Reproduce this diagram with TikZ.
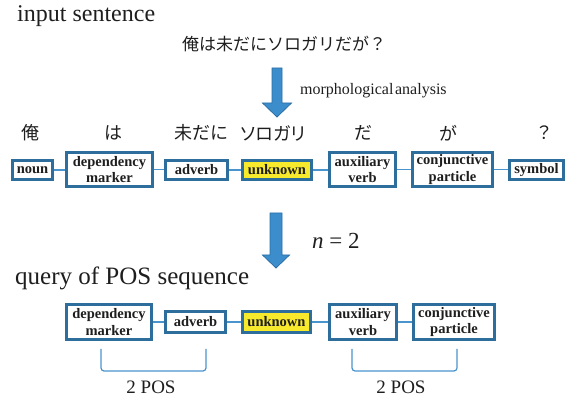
\documentclass[tikz,border=0pt]{standalone}
\usepackage{fontspec}
\setmainfont{Liberation Serif}
\newfontfamily\jp[RawFeature=+palt]{Noto Sans CJK JP}
\newfontfamily\jpmono{Noto Sans CJK JP}
\definecolor{boxblue}{HTML}{2D6E9D}
\definecolor{linkblue}{HTML}{4A94CE}
\definecolor{arrowfill}{HTML}{3B8DCB}
\definecolor{arrowedge}{HTML}{2C6FA6}
\definecolor{unkyellow}{HTML}{F7E92B}
\definecolor{txt}{HTML}{1E1E1E}
\begin{document}
\begin{tikzpicture}[x=1pt,y=-1pt,
  posbox/.style={draw=boxblue, line width=2.6pt, fill=white, inner sep=0pt,
    text=txt, font=\fontsize{14.5}{16.5}\selectfont\bfseries, align=center},
  unk/.style={posbox, fill=unkyellow},
  small/.style={minimum height=19.5pt},
  big/.style={minimum height=34.5pt},
  link/.style={draw=linkblue, line width=1.4pt},
  blockarrow/.style={fill=arrowfill, draw=arrowedge, line width=0.8pt},
  bracketline/.style={draw=linkblue, line width=1.2pt, rounded corners=3pt},
  jpword/.style={font=\jp\fontsize{18}{18}\selectfont, text=txt, inner sep=0pt},
  title/.style={font=\fontsize{24}{24}\selectfont, text=txt, inner sep=0pt, anchor=base west},
  countlbl/.style={font=\fontsize{19}{19}\selectfont, text=txt, inner sep=0pt, anchor=base}
]
\useasboundingbox (0,0) rectangle (571,398);

% titles
\node[title] (t1) at (17,22) {input sentence};
\node[font=\jpmono\fontsize{17}{17}\selectfont, text=txt, inner sep=0pt, anchor=west] (sent) at (182,43.5) {俺は未だにソロガリだが？};
\node[font=\fontsize{16}{16}\selectfont, text=txt, inner sep=0pt, anchor=base west] (morph) at (300,95) {morphological\hspace{0.1em}analysis};

% arrow 1
\draw[blockarrow] (272,68) -- (282,68) -- (282,103) -- (291.5,103) -- (277,117) -- (262.5,103) -- (272,103) -- cycle;

% word labels
\node[jpword] (w1) at (30,133) {俺};
\node[jpword] (w2) at (113,133) {は};
\node[jpword] (w3) at (201,133) {未だに};
\node[jpword] (w4) at (273,133) {ソロガリ};
\node[jpword] (w5) at (364,133) {だ};
\node[jpword] (w6) at (448,133) {が};
\node[jpword] (w7) at (544,133) {？};

% top row
\node[posbox, small, minimum width=40.4pt] (a1) at (32.5,170) {noun};
\node[posbox, big, minimum width=86.4pt] (a2) at (109.5,169.5) {dependency\\marker};
\node[posbox, small, minimum width=62.4pt] (a3) at (196.5,170) {adverb};
\node[unk, small, minimum width=69.4pt] (a4) at (277,170) {unknown};
\node[posbox, big, minimum width=66.4pt] (a5) at (362.5,169.5) {auxiliary\\verb};
\node[posbox, big, minimum width=80.4pt] (a6) at (452.5,169.5) {conjunctive\\particle};
\node[posbox, small, minimum width=54.4pt] (a7) at (536.5,170) {symbol};
\foreach \p/\q in {a1/a2,a2/a3,a3/a4,a4/a5,a5/a6,a6/a7}
  \draw[link] (\p.east) -- (\p.east -| \q.west);

% arrow 2
\draw[blockarrow] (270,213) -- (282,213) -- (282,255) -- (289.5,255) -- (276,268) -- (262.5,255) -- (270,255) -- cycle;
\node[font=\fontsize{23}{23}\selectfont, text=txt, inner sep=0pt, anchor=base west] (ntwo) at (312,249) {\textit{n} = 2};

\node[title, font=\fontsize{25}{25}\selectfont] (t2) at (15,285) {query of POS sequence};

% bottom row
\node[posbox, big, minimum width=85.4pt, minimum height=35.4pt] (b2) at (109,322) {dependency\\marker};
\node[posbox, small, minimum width=60.4pt, minimum height=21.4pt] (b3) at (195.5,322) {adverb};
\node[unk, small, minimum width=68.4pt, minimum height=21.4pt] (b4) at (276.5,322) {unknown};
\node[posbox, big, minimum width=66.9pt, minimum height=35.4pt] (b5) at (363,322) {auxiliary\\verb};
\node[posbox, big, minimum width=81.4pt, minimum height=35.4pt] (b6) at (454,322) {conjunctive\\particle};
\foreach \p/\q in {b2/b3,b3/b4,b4/b5,b5/b6}
  \draw[link] (\p.east) -- (\p.east -| \q.west);

% brackets
\draw[bracketline] (101,349) -- (101,371) -- (206,371) -- (206,349);
\draw[bracketline] (352,349) -- (352,371) -- (457,371) -- (457,349);
\node[countlbl] (c1) at (151,393) {2 POS};
\node[countlbl] (c2) at (401,393) {2 POS};
\end{tikzpicture}
\end{document}
